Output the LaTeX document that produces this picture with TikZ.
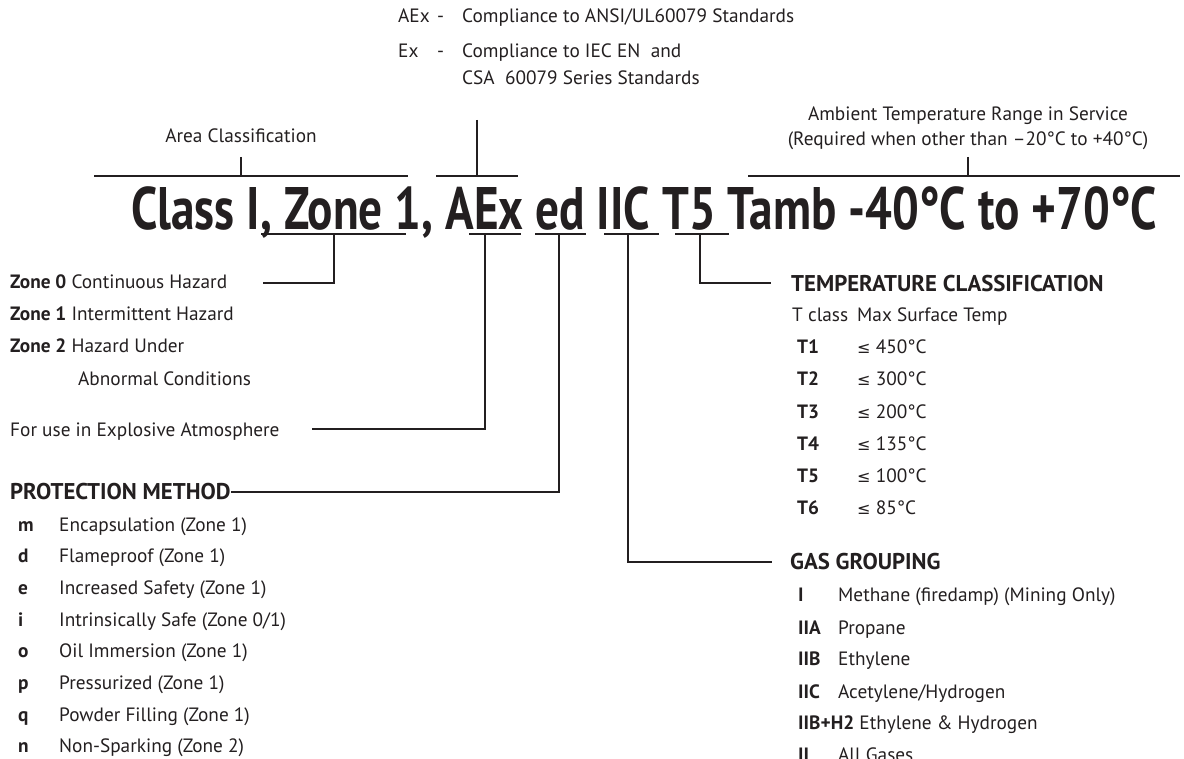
\documentclass[tikz,border=0pt]{standalone}
\usepackage{fontspec}
\setmainfont{PT Sans}
\newfontfamily\symf{DejaVu Sans}
\begin{document}
\definecolor{ink}{RGB}{35,31,32}
\begin{tikzpicture}[x=1pt,y=-1pt,
  txt/.style={anchor=base west,inner sep=0pt,text=ink,font=\fontsize{19.3}{22}\selectfont},
  btxt/.style={anchor=base west,inner sep=0pt,text=ink,font=\fontsize{19.3}{22}\selectfont\bfseries},
  hdr/.style={anchor=base west,inner sep=0pt,text=ink,font=\fontsize{22.8}{26}\selectfont\bfseries},
  ttl/.style={anchor=base west,inner sep=0pt,text=ink,font=\fontsize{60}{66}\selectfont\bfseries},
  ln/.style={draw=ink,line width=1.6pt}]
\useasboundingbox (0,0) rectangle (1184,759);
\clip (0,0) rectangle (1184,759);
% top notes
\node[txt] (aex) at (398,23) {AEx};
\node[txt] (aexd) at (437,23) {-};
\node[txt] (aext) at (462,23) {Compliance to ANSI/UL60079 Standards};
\node[txt] (ex) at (398,58) {Ex};
\node[txt] (exd) at (437,58) {-};
\node[txt] (ext) at (462,58) {Compliance to IEC EN\ \ and};
\node[txt] (ext2) at (462,85) {CSA\ \ 60079 Series Standards};
\node[txt,anchor=base] (area) at (241,143) {Area Classification};
\node[txt,anchor=base] (amb1) at (968,121) {Ambient Temperature Range in Service};
\node[txt,anchor=base] (amb2) at (968,146) {(Required when other than –20°C to +40°C)};
% title
\node[ttl] (title) at (131,230) {\resizebox{1026pt}{\height}{Class I, Zone 1, AEx ed IIC T5 Tamb -40°C to +70°C}};
% top brackets
\coordinate (a1) at (94,176); \coordinate (a2) at (408,176); \coordinate (at) at (241,157);
\coordinate (x1) at (436,176); \coordinate (x2) at (518,176); \coordinate (xt) at (477,120);
\coordinate (t1) at (748,176); \coordinate (t2) at (1180,176); \coordinate (tt) at (968,157);
\draw[ln] (a1) -- (a2); \draw[ln] (at) -- (at|-a1);
\draw[ln] (x1) -- (x2); \draw[ln] (xt) -- (xt|-x1);
\draw[ln] (t1) -- (t2); \draw[ln] (tt) -- (tt|-t1);
% bottom brackets
\coordinate (z1) at (261,234); \coordinate (z2) at (406,234); \coordinate (zm) at (334,234);
\coordinate (e1) at (469,234); \coordinate (e2) at (521,234); \coordinate (em) at (485,234);
\coordinate (p1) at (535,234); \coordinate (p2) at (586,234); \coordinate (pm) at (559,234);
\coordinate (g1) at (604,234); \coordinate (g2) at (659,234); \coordinate (gm) at (628,234);
\coordinate (c1) at (675,234); \coordinate (c2) at (729,234); \coordinate (cm) at (700,234);
\coordinate (zend) at (263,283);
\coordinate (eend) at (312,429);
\coordinate (gend) at (772,562);
\coordinate (cend) at (771,283);
\draw[ln] (z1) -- (z2); \draw[ln] (e1) -- (e2); \draw[ln] (p1) -- (p2);
\draw[ln] (g1) -- (g2); \draw[ln] (c1) -- (c2);
% left labels
\node[txt] (z0) at (10,289) {\textbf{Zone 0} Continuous Hazard};
\node[txt] (zz1) at (10,321) {\textbf{Zone 1} Intermittent Hazard};
\node[txt] (zz2) at (10,353) {\textbf{Zone 2} Hazard Under};
\node[txt] (zz3) at (78,385) {Abnormal Conditions};
\node[txt] (fu) at (10,436) {For use in Explosive Atmosphere};
\node[hdr] (prot) at (10,499) {PROTECTION METHOD};
\draw[ln] (zm) |- (zend);
\draw[ln] (em) |- (eend);
\draw[ln] (pm) |- (prot.east|-0,492);
\foreach \k/\d [count=\i from 0] in {m/{Encapsulation (Zone 1)},d/{Flameproof (Zone 1)},e/{Increased Safety (Zone 1)},i/{Intrinsically Safe (Zone 0/1)},o/{Oil Immersion (Zone 1)},p/{Pressurized (Zone 1)},q/{Powder Filling (Zone 1)},n/{Non-Sparking (Zone 2)}}{
  \node[btxt] (pl\k) at (18,531+31.7*\i) {\k};
  \node[txt] (pd\k) at (59,531+31.7*\i) {\d};
}
% temperature classification
\node[hdr] (tc) at (791,292) {TEMPERATURE CLASSIFICATION};
\draw[ln] (cm) |- (cend);
\node[txt] (tch) at (792,322) {T class};
\node[txt] (tcm) at (857,322) {Max Surface Temp};
\foreach \t/\v [count=\i from 0] in {T1/450,T2/300,T3/200,T4/135,T5/100,T6/85}{
  \node[btxt] (tn\i) at (797,354+32*\i) {\t};
  \node[txt] (tv\i) at (857,354+32*\i) {{\symf\fontsize{16}{20}\selectfont ≤} \v°C};
}
% gas grouping
\node[hdr] (gg) at (790,569) {GAS GROUPING};
\draw[ln] (gm) |- (gend);
\node[btxt] (g0) at (798,601) {I};
\node[txt] (g0d) at (838,601) {Methane (firedamp) (Mining Only)};
\node[btxt] (g1n) at (798,634) {IIA};
\node[txt] (g1d) at (838,634) {Propane};
\node[btxt] (g2n) at (798,665) {IIB};
\node[txt] (g2d) at (838,665) {Ethylene};
\node[btxt] (g3n) at (798,698) {IIC};
\node[txt] (g3d) at (838,698) {Acetylene/Hydrogen};
\node[txt] (g4n) at (798,729) {\textbf{IIB+H2} Ethylene \& Hydrogen};
\node[btxt] (g5n) at (798,761) {II};
\node[txt] (g5d) at (838,761) {All Gases};
\end{tikzpicture}
\end{document}
